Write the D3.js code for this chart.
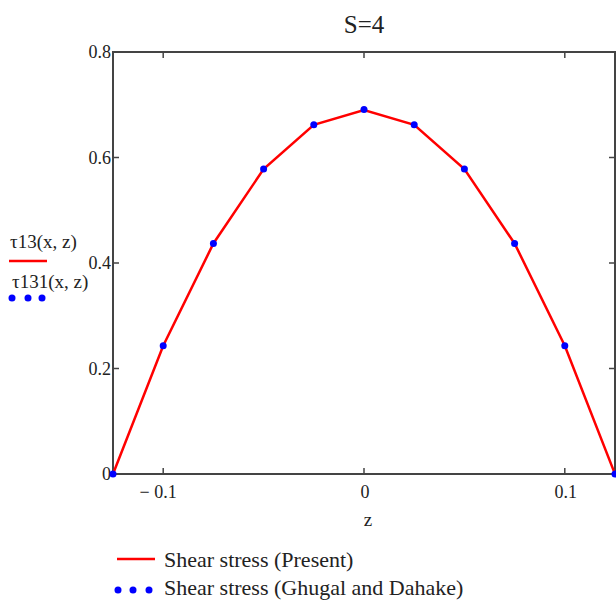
<!DOCTYPE html>
<html>
<head>
<meta charset="utf-8">
<script src="https://cdn.jsdelivr.net/npm/d3@7"></script>
<style>
  body { margin: 0; background: #fff; }
  text { font-family: "Liberation Serif", "DejaVu Serif", serif; fill: #222; }
</style>
</head>
<body>
<div id="chart"></div>
<script>
// z positions through the thickness
var zValues = [-0.125, -0.1, -0.075, -0.05, -0.025, 0, 0.025, 0.05, 0.075, 0.1, 0.125];
// shear stress, present theory (red line)
var tauPresent = [0, 0.243, 0.437, 0.578, 0.662, 0.690, 0.662, 0.578, 0.437, 0.243, 0];
// shear stress, Ghugal and Dahake (blue dots)
var tauGhugal = [0, 0.243, 0.437, 0.578, 0.662, 0.691, 0.662, 0.578, 0.437, 0.243, 0];
var xTicks = [-0.1, 0, 0.1];
var yTicks = [0, 0.2, 0.4, 0.6, 0.8];
var legendNames = ["Shear stress (Present)", "Shear stress (Ghugal and Dahake)"];

// plot area
var plotL = 113, plotR = 615, plotT = 52, plotB = 474;

var svg = d3.select("#chart").append("svg").attr("width", 616).attr("height", 601);

var x = d3.scaleLinear().domain([-0.125, 0.125]).range([plotL, plotR]);
var y = d3.scaleLinear().domain([0, 0.8]).range([plotB, plotT]);

// title
svg.append("text").attr("x", 364).attr("y", 33).attr("text-anchor", "middle")
  .attr("font-size", 25).text("S=4");

// frame
svg.append("rect").attr("x", plotL).attr("y", plotT).attr("width", plotR - plotL).attr("height", plotB - plotT)
  .attr("fill", "none").attr("stroke", "#444").attr("stroke-width", 2);

// inward ticks, bottom and top
var tickLen = 6;
xTicks.forEach(function(t) {
  svg.append("line").attr("x1", x(t)).attr("x2", x(t)).attr("y1", plotB).attr("y2", plotB - tickLen)
    .attr("stroke", "#444").attr("stroke-width", 1.5);
  svg.append("line").attr("x1", x(t)).attr("x2", x(t)).attr("y1", plotT).attr("y2", plotT + tickLen)
    .attr("stroke", "#444").attr("stroke-width", 1.5);
  svg.append("text").attr("x", x(t) + (t < 0 ? -5 : 1)).attr("y", plotB + 24).attr("text-anchor", "middle")
    .attr("font-size", 18).text(t < 0 ? "\u2212 " + Math.abs(t) : t);
});

// inward ticks, left and right
yTicks.forEach(function(t) {
  if (t > 0 && t < 0.8) {
    svg.append("line").attr("x1", plotL).attr("x2", plotL + tickLen).attr("y1", y(t)).attr("y2", y(t))
      .attr("stroke", "#444").attr("stroke-width", 1.5);
    svg.append("line").attr("x1", plotR).attr("x2", plotR - tickLen).attr("y1", y(t)).attr("y2", y(t))
      .attr("stroke", "#444").attr("stroke-width", 1.5);
  }
  svg.append("text").attr("x", plotL - 2).attr("y", y(t) + 6).attr("text-anchor", "end")
    .attr("font-size", 18).text(t);
});

// x axis label
svg.append("text").attr("x", 368).attr("y", 526).attr("text-anchor", "middle")
  .attr("font-size", 19).text("z");

// present curve
var line = d3.line().x(function(d, i) { return x(zValues[i]); }).y(function(d) { return y(d); });
svg.append("path").datum(tauPresent).attr("d", line)
  .attr("fill", "none").attr("stroke", "#ff0000").attr("stroke-width", 2.5);

// Ghugal and Dahake points
svg.selectAll(".dot").data(tauGhugal).enter().append("circle")
  .attr("cx", function(d, i) { return x(zValues[i]); })
  .attr("cy", function(d) { return y(d); })
  .attr("r", 3.5).attr("fill", "#0000ff");

// left side legend
svg.append("text").attr("x", 10).attr("y", 248).attr("font-size", 19).text("\u03c413(x, z)");
svg.append("line").attr("x1", 9).attr("x2", 47).attr("y1", 261).attr("y2", 261)
  .attr("stroke", "#ff0000").attr("stroke-width", 2.5);
svg.append("text").attr("x", 12).attr("y", 288).attr("font-size", 19).text("\u03c4131(x, z)");
[12, 28, 42].forEach(function(cx) {
  svg.append("circle").attr("cx", cx).attr("cy", 298).attr("r", 3.5).attr("fill", "#0000ff");
});

// bottom legend
svg.append("line").attr("x1", 117).attr("x2", 155).attr("y1", 559).attr("y2", 559)
  .attr("stroke", "#ff0000").attr("stroke-width", 2.5);
svg.append("text").attr("x", 164).attr("y", 567).attr("font-size", 22).text(legendNames[0]);
[118, 133, 149].forEach(function(cx) {
  svg.append("circle").attr("cx", cx).attr("cy", 590).attr("r", 3.5).attr("fill", "#0000ff");
});
svg.append("text").attr("x", 164).attr("y", 595).attr("font-size", 22).text(legendNames[1]);
</script>
</body>
</html>
